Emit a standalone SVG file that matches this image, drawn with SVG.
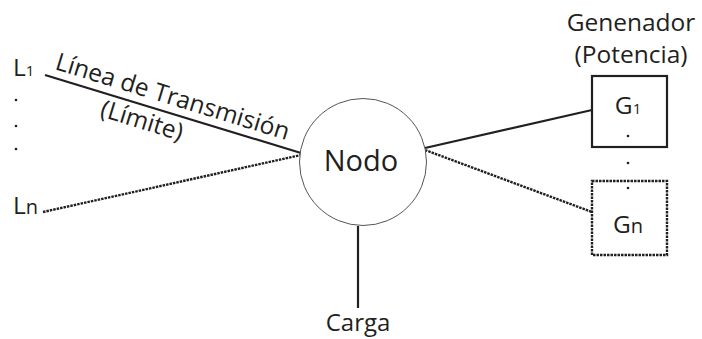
<svg xmlns="http://www.w3.org/2000/svg" width="702" height="339" viewBox="0 0 702 339">
<style>
text{font-family:"Open Sans","Noto Sans","Liberation Sans",sans-serif;fill:#231f20}
.solid{stroke:#231f20;stroke-width:2.2;fill:none}
.dot{stroke:#231f20;stroke-width:2.4;fill:none;stroke-dasharray:2.5 1}
.lbl{font-size:24.5px}
.sub{font-size:15px}
</style>
<rect width="702" height="339" fill="#fff"/>
<g id="connectors">
<line class="solid" x1="45" y1="75" x2="301" y2="153"/>
<line class="dot" x1="43" y1="212" x2="301" y2="155"/>
<line class="solid" x1="425" y1="148" x2="592" y2="110"/>
<line class="dot" x1="425" y1="150" x2="592" y2="212"/>
<line class="solid" x1="358" y1="226" x2="358" y2="308" stroke="#444"/>
</g>
<g id="line-label">
<text class="lbl" transform="translate(54,69) rotate(17)">Línea de Transmisión</text>
<text class="lbl" transform="translate(99,116) rotate(17)">(Límite)</text>
</g>
<g id="L1">
<text x="13" y="76" class="lbl">L<tspan class="sub">1</tspan></text>
</g>
<g id="Ldots">
<circle cx="16" cy="100" r="1.3" fill="#231f20"/>
<circle cx="16" cy="126" r="1.3" fill="#231f20"/>
<circle cx="16" cy="149" r="1.3" fill="#231f20"/>
</g>
<g id="Ln">
<text x="13" y="214" class="lbl">L<tspan font-size="20">n</tspan></text>
</g>
<g id="nodo">
<circle cx="363" cy="162" r="63.5" fill="#fff" stroke="#555" stroke-width="1"/>
<text x="361" y="171" font-size="29" text-anchor="middle">Nodo</text>
</g>
<g id="carga">
<text x="358" y="331" font-size="24" text-anchor="middle">Carga</text>
</g>
<g id="generador-title">
<text x="631" y="31" class="lbl" text-anchor="middle">Genenador</text>
<text x="631" y="63" class="lbl" text-anchor="middle">(Potencia)</text>
</g>
<g id="G1">
<rect x="592" y="76" width="75" height="71" fill="#fff" class="solid"/>
<text x="628" y="114" class="lbl" text-anchor="middle">G<tspan class="sub">1</tspan></text>
<circle cx="628" cy="136" r="1.3" fill="#231f20"/>
</g>
<circle cx="628" cy="163" r="1.3" fill="#231f20"/>
<g id="Gn">
<rect x="592" y="181" width="75" height="74" fill="#fff" class="dot"/>
<circle cx="628" cy="188" r="1.3" fill="#231f20"/>
<text x="628" y="233" class="lbl" text-anchor="middle">G<tspan font-size="20">n</tspan></text>
</g>
</svg>
